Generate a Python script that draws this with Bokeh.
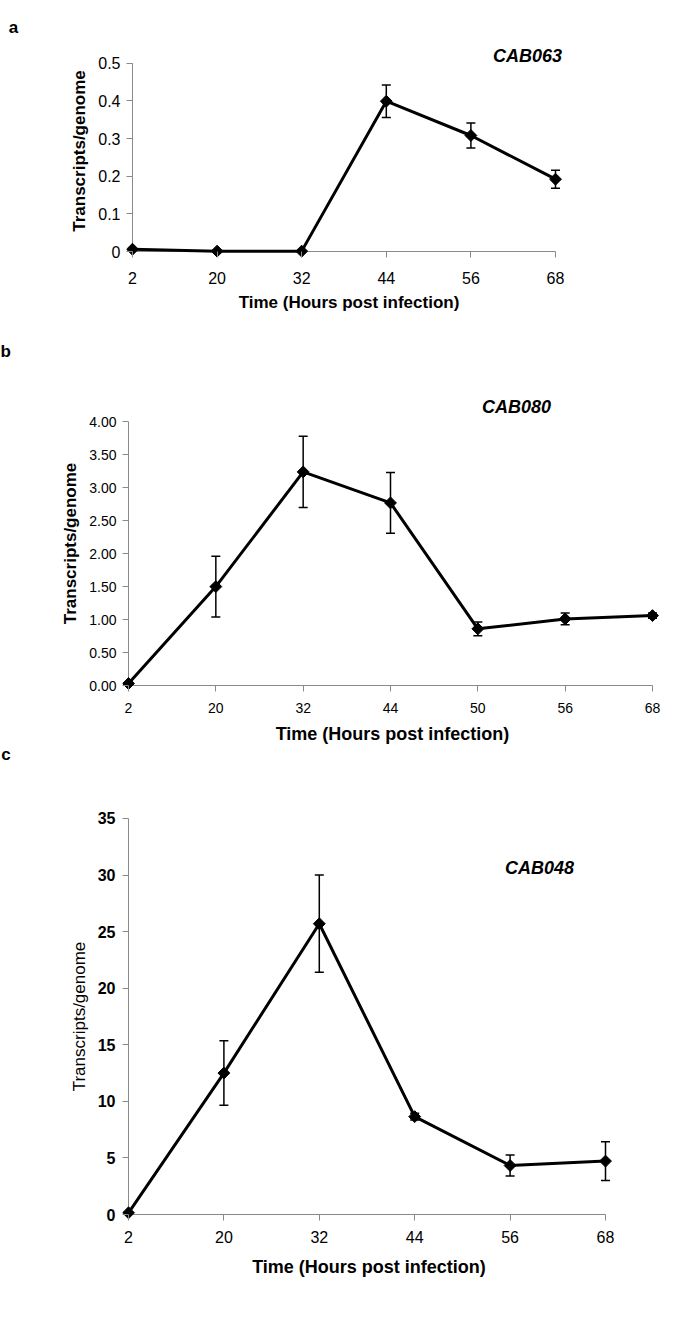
import numpy as np
from bokeh.plotting import figure
from bokeh.layouts import column, row
from bokeh.models import (ColumnDataSource, Whisker, TeeHead, FixedTicker, Label,
                          Range1d, NumeralTickFormatter)
from bokeh.embed import file_html
from bokeh.resources import INLINE

# ---------------- data ----------------
# panel a : CAB063
hours_a = ["2", "20", "32", "44", "56", "68"]
vals_a = [0.006, 0.001, 0.001, 0.399, 0.308, 0.192]
errs_a = [0.0, 0.0, 0.0, 0.043, 0.033, 0.024]
yticks_a = [0, 0.1, 0.2, 0.3, 0.4, 0.5]

# panel b : CAB080
hours_b = ["2", "20", "32", "44", "50", "56", "68"]
vals_b = [0.03, 1.50, 3.24, 2.77, 0.86, 1.01, 1.06]
errs_b = [0.0, 0.46, 0.54, 0.46, 0.105, 0.09, 0.04]
yticks_b = [0, 0.5, 1.0, 1.5, 2.0, 2.5, 3.0, 3.5, 4.0]

# panel c : CAB048
hours_c = ["2", "20", "32", "44", "56", "68"]
vals_c = [0.15, 12.5, 25.7, 8.65, 4.33, 4.72]
errs_c = [0.0, 2.85, 4.3, 0.3, 0.93, 1.72]
yticks_c = [0, 5, 10, 15, 20, 25, 30, 35]

panel_letters = ["a", "b", "c"]
genes = ["CAB063", "CAB080", "CAB048"]

FONT = "Liberation Sans"
AXIS_GRAY = "#8a8a8a"
LET_W = 36
MAIN_W = 670 - LET_W
TOTAL_H = 1303
PAGE = 8
PAD = 6          # room kept left of / below the axes so edge markers are not cut
TICK = 6


def no_align(p):
    if hasattr(p, "frame_align"):
        p.frame_align = False


def panel(hours, vals, errs, yticks, yfmt, gene, *, oy, height, axis_x, last_x,
          zero_y, top_y, frame_top, pad_r, tick_font, ytick_style,
          xlab_font, ylab_font, ylab_style, x_std, xl_std, y_std, yl_std, gene_pos):
    """Geometry is given in page pixels (axis position, last tick, zero and top tick)."""
    n = len(hours)
    xs = list(range(n))
    ox = PAGE + LET_W
    sx = (last_x - axis_x) / (n - 1)
    sy = (zero_y - top_y) / yticks[-1]
    fl = round(axis_x - PAD - ox)
    fr = round(last_x + pad_r - ox)
    ft = round(frame_top - oy)
    fb = round(zero_y + PAD - oy)
    x_range = Range1d(-PAD / sx, (n - 1) + pad_r / sx)
    y_range = Range1d(-PAD / sy, yticks[-1] + (top_y - frame_top) / sy)
    p = figure(width=MAIN_W, height=height, title=None,
               x_range=x_range, y_range=y_range,
               output_backend="svg", toolbar_location=None,
               min_border_left=fl, min_border_right=MAIN_W - fr,
               min_border_top=ft, min_border_bottom=height - fb)
    no_align(p)
    p.outline_line_color = None
    p.xgrid.visible = False
    p.ygrid.visible = False
    p.background_fill_color = "white"
    p.border_fill_color = "white"

    for ax in (p.xaxis[0], p.yaxis[0]):
        ax.axis_line_color = None
        ax.major_tick_line_color = AXIS_GRAY
        ax.minor_tick_line_color = None
        ax.major_tick_out = 0
        ax.major_tick_in = TICK
        ax.minor_tick_out = 0
        ax.minor_tick_in = 0
        ax.major_label_text_font = FONT
        ax.major_label_text_color = "black"
        ax.axis_label_text_font = FONT
        ax.axis_label_text_color = "black"
        ax.axis_label_text_font_style = "bold"

    xa = p.xaxis[0]
    xa.ticker = FixedTicker(ticks=xs)
    xa.bounds = (0, n - 1)
    xa.major_label_overrides = {i: h for i, h in enumerate(hours)}
    xa.major_label_text_font_size = f"{tick_font}px"
    xa.major_label_standoff = x_std
    xa.axis_label = "Time (Hours post infection)"
    xa.axis_label_text_font_size = f"{xlab_font}px"
    xa.axis_label_standoff = xl_std

    ya = p.yaxis[0]
    ya.ticker = FixedTicker(ticks=yticks)
    ya.bounds = (yticks[0], yticks[-1])
    ya.formatter = NumeralTickFormatter(format=yfmt)
    ya.major_label_text_font_size = f"{ytick_style[0]}px"
    ya.major_label_text_font_style = ytick_style[1]
    ya.major_label_standoff = y_std
    ya.axis_label = "Transcripts/genome"
    ya.axis_label_text_font_size = f"{ylab_font}px"
    ya.axis_label_text_font_style = ylab_style
    ya.axis_label_standoff = yl_std

    # axis rules through the data origin (the frame keeps a small margin around them)
    p.segment(x0=[0, 0], y0=[0, 0], x1=[n - 1, 0], y1=[0, yticks[-1]],
              line_color=AXIS_GRAY, line_width=1)

    p.line(xs, vals, line_width=3, line_color="black")
    src = ColumnDataSource(dict(
        base=xs,
        upper=[v + e for v, e in zip(vals, errs)],
        lower=[v - e for v, e in zip(vals, errs)]))
    p.add_layout(Whisker(source=src, base="base", upper="upper", lower="lower",
                         line_color="black", line_width=1.5,
                         upper_head=TeeHead(size=9, line_color="black", line_width=1.5),
                         lower_head=TeeHead(size=9, line_color="black", line_width=1.5)))
    p.scatter(xs, vals, marker="square", size=8.4, angle=np.pi / 4,
              fill_color="black", line_color="black")

    # gene name, positioned in page pixels and converted to data units
    gx = (gene_pos[0] - axis_x) / sx
    gy = (zero_y - gene_pos[1]) / sy
    p.add_layout(Label(x=gx, y=gy, text=gene,
                       text_font=FONT, text_font_size="18px",
                       text_font_style="bold italic", text_align="center",
                       text_baseline="middle", text_color="black"))
    return p


pa = panel(hours_a, vals_a, errs_a, yticks_a, "0.[0]", genes[0],
           oy=8, height=337, axis_x=140, last_x=563, zero_y=259.3, top_y=70.7,
           frame_top=52, pad_r=16,
           tick_font=16, ytick_style=(16, "normal"), xlab_font=17, ylab_font=17,
           ylab_style="bold", x_std=14, xl_std=6, y_std=6, yl_std=6,
           gene_pos=(535, 64))

pb = panel(hours_b, vals_b, errs_b, yticks_b, "0.00", genes[1],
           oy=345, height=425, axis_x=136, last_x=660, zero_y=693, top_y=429.3,
           frame_top=403, pad_r=10,
           tick_font=14, ytick_style=(14, "normal"), xlab_font=18, ylab_font=17,
           ylab_style="bold", x_std=11, xl_std=8, y_std=6, yl_std=6,
           gene_pos=(524, 414.3))

pc = panel(hours_c, vals_c, errs_c, yticks_c, "0", genes[2],
           oy=770, height=541, axis_x=136, last_x=613, zero_y=1222.5, top_y=826,
           frame_top=820, pad_r=10,
           tick_font=16, ytick_style=(16, "bold"), xlab_font=18, ylab_font=17,
           ylab_style="normal", x_std=10, xl_std=11, y_std=7, yl_std=6,
           gene_pos=(547, 876))

# narrow strip on the left carrying the panel letters a, b, c
letters_px = [(21, 35), (13.3, 359.3), (13.5, 762)]   # page pixels
pl = figure(width=LET_W, height=TOTAL_H, x_range=Range1d(0, LET_W),
            y_range=Range1d(0, TOTAL_H), x_axis_type=None, y_axis_type=None,
            output_backend="svg", toolbar_location=None, min_border=0,
            title=None)
no_align(pl)
pl.outline_line_color = None
pl.xgrid.visible = False
pl.ygrid.visible = False
for t, (px, py) in zip(panel_letters, letters_px):
    pl.add_layout(Label(x=px - PAGE, y=PAGE + TOTAL_H - py, text=t, text_font=FONT,
                        text_font_size="17px", text_font_style="bold",
                        text_align="center", text_baseline="middle",
                        text_color="black"))

layout = row(pl, column(pa, pb, pc, spacing=0), spacing=0)
open("out.html", "w").write(file_html(layout, INLINE))
